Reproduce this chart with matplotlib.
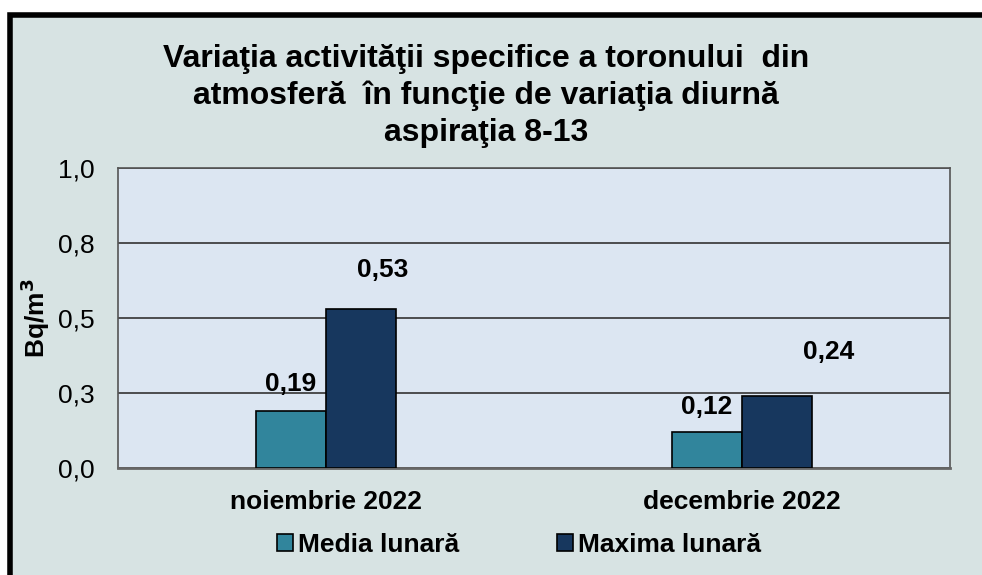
import matplotlib.pyplot as plt
import numpy as np
from matplotlib.patches import Rectangle

plt.rcParams['font.family'] = ['Liberation Sans', 'DejaVu Sans']

categories = ['noiembrie 2022', 'decembrie 2022']
media = [0.19, 0.12]
maxima = [0.53, 0.24]
series_names = ['Media lunară', 'Maxima lunară']
y_ticks = [0.0, 0.25, 0.5, 0.75, 1.0]
y_tick_labels = ['0,0', '0,3', '0,5', '0,8', '1,0']
title = 'Variaţia activităţii specifice a toronului  din\natmosferă  în funcţie de variaţia diurnă\naspiraţia 8-13'

BG = '#d7e3e3'
PLOT_BG = '#dce6f2'
C_MEDIA = '#31859c'
C_MAX = '#17375e'

W, H = 982, 575
fig = plt.figure(figsize=(W / 100, H / 100), dpi=100)
fig.patch.set_facecolor('white')

# outer frame, cut off at right and bottom like the screenshot
frame = Rectangle((10 / W, -0.05), 1.1, 1.05 - 15 / H, transform=fig.transFigure,
                  facecolor=BG, edgecolor='black', linewidth=4, zorder=-5)
fig.patches.append(frame)

ax = fig.add_axes([118 / W, 1 - 468 / H, (950 - 118) / W, 300 / H])
ax.set_zorder(2)
ax.set_facecolor(PLOT_BG)

x = np.arange(len(categories))
bw = 0.168
b1 = ax.bar(x - bw / 2, media, bw, color=C_MEDIA, edgecolor='black', linewidth=1.2,
            label=series_names[0], zorder=3)
b2 = ax.bar(x + bw / 2, maxima, bw, color=C_MAX, edgecolor='black', linewidth=1.2,
            label=series_names[1], zorder=3)

# label offsets (points) as placed in the original
off_media = [(0, 19.5), (0, 18)]
off_max = [(16, 28), (37, 32)]
for bars, vals, offs in ((b1, media, off_media), (b2, maxima, off_max)):
    for bar, v, (dx, dy) in zip(bars, vals, offs):
        ax.annotate(f'{v:.2f}'.replace('.', ','),
                    (bar.get_x() + bar.get_width() / 2, v),
                    xytext=(dx, dy), textcoords='offset points',
                    ha='center', va='center', fontsize=19, fontweight='bold')

ax.set_xlim(-0.5, 1.5)
ax.set_ylim(0, 1.0)
ax.set_yticks(y_ticks)
ax.set_yticklabels(y_tick_labels)
ax.set_xticks(x)
ax.set_xticklabels(categories, fontweight='bold')
ax.tick_params(axis='both', length=0, labelsize=19)
ax.tick_params(axis='y', pad=17)
ax.tick_params(axis='x', pad=16)
ax.yaxis.grid(True, color='#333333', linewidth=1.2, zorder=1)
ax.set_axisbelow(True)
for s in ('left', 'top', 'right'):
    ax.spines[s].set_color('#555555')
    ax.spines[s].set_linewidth(1.2)
ax.spines['bottom'].set_color('#666666')
ax.spines['bottom'].set_linewidth(2)

ax.set_ylabel('Bq/m$^\\mathbf{3}$', fontsize=19, fontweight='bold', labelpad=4)

fig.text(486 / W, 1 - 96 / H, title, ha='center', va='center', fontsize=23,
         fontweight='bold', linespacing=1.3)

leg = fig.legend(loc='center', bbox_to_anchor=(519 / W, 1 - 545 / H), ncol=2,
                 frameon=False, prop={'weight': 'bold', 'size': 19},
                 handlelength=0.6, handleheight=0.6, handletextpad=0.2,
                 columnspacing=3.7)

fig.savefig('out.png', dpi=100, facecolor=fig.get_facecolor())
